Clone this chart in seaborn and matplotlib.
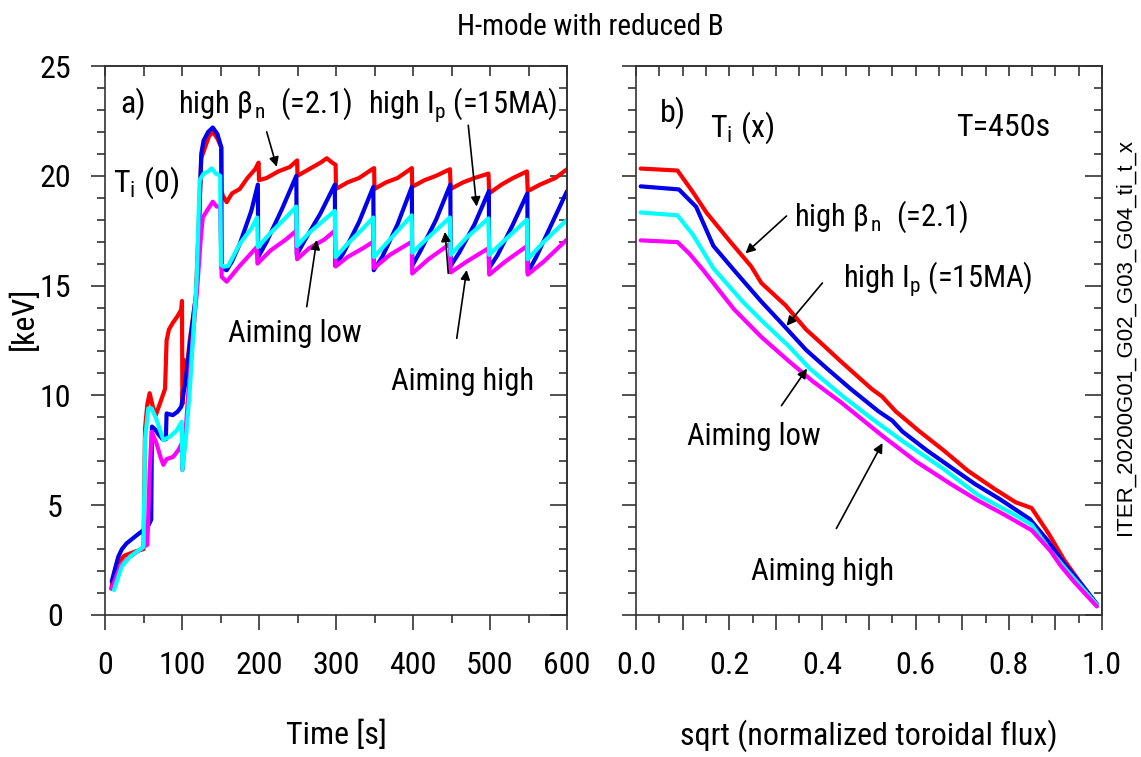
"""
Ti(0) time traces and Ti(x) profiles for the reduced-B H-mode cases.
"""
import pandas as pd
import matplotlib
matplotlib.use('Agg')
import matplotlib.pyplot as plt
import seaborn as sns
from matplotlib import font_manager
from matplotlib.ticker import MultipleLocator, FuncFormatter, NullFormatter

# ---- panel a) central ion temperature vs time ----
red_t = [8, 15, 25, 40, 50, 52, 55, 58, 62, 66, 70, 75, 78, 80, 83, 88, 94, 99, 100, 100.5,
         103, 105, 110, 118, 122, 125, 130, 135, 140, 146, 151, 151.5, 153, 158, 165, 175, 185,
         195, 199.5, 200, 210, 225, 240, 249.5, 250, 265, 280, 288, 295, 299.5, 300, 315, 330,
         347, 349.5, 350, 365, 380, 398.5, 399, 415, 430, 448, 449, 465, 480, 498, 499, 515,
         530, 548, 549, 565, 585, 600]
red_ti = [1.2, 2.3, 2.7, 2.9, 3.0, 8.5, 9.6, 10.1, 9.5, 9.1, 9.5, 10.0, 10.3, 12.5, 13.0, 13.3,
          13.6, 13.9, 14.3, 9.6, 11.6, 10.8, 12.5, 14.5, 18.0, 20.8, 21.3, 21.8, 22.0, 21.7, 21.3,
          19.3, 19.1, 18.8, 19.2, 19.4, 19.9, 20.3, 20.6, 19.8, 19.9, 20.2, 20.4, 20.7, 20.0, 20.3,
          20.6, 20.8, 20.6, 20.5, 19.4, 19.7, 19.9, 20.3, 20.35, 19.4, 19.7, 19.9, 20.35, 19.5,
          19.8, 20.0, 20.3, 19.4, 19.7, 19.9, 20.1, 19.2, 19.6, 19.9, 20.2, 19.3, 19.6, 19.9, 20.3]

blue_t = [8.7, 13, 17.3, 22, 28, 39, 50, 56.7, 60, 61, 65, 70, 75, 79, 80, 88, 94, 99, 104, 112,
          119, 122, 125, 128, 134, 140, 146, 151, 151.5, 158, 165, 175, 190, 198.5, 199, 210, 230,
          248.5, 249, 260, 280, 298.5, 299, 310, 330, 348.5, 349, 360, 380, 398.5, 399, 410, 430,
          448.5, 449, 460, 480, 498.5, 499, 510, 530, 548.5, 549, 560, 580, 600]
blue_ti = [1.52, 2.1, 2.66, 3.0, 3.26, 3.57, 3.87, 4.1, 4.34, 8.58, 8.45, 8.2, 8.0, 8.0, 9.18, 9.1,
           9.25, 9.48, 10.5, 12.8, 14.8, 17.5, 21.0, 21.6, 22.0, 22.2, 21.9, 21.3, 15.8, 15.7, 16.1,
           16.9, 18.4, 19.6, 16.3, 17.0, 18.5, 20.0, 16.4, 17.1, 18.3, 19.6, 15.9, 16.5, 17.9, 19.5,
           15.7, 16.3, 17.8, 19.5, 15.9, 16.6, 18.0, 19.6, 15.9, 16.5, 17.8, 19.3, 15.8, 16.4, 17.8,
           19.2, 15.6, 16.3, 17.8, 19.3]

cyan_t = [11.7, 21.6, 32.5, 42, 50, 52, 56.3, 60.6, 67, 75.8, 84.4, 93, 99.6, 100.5, 106, 110, 119,
          123, 128, 134, 138.5, 144, 149.6, 150.5, 155, 160, 175, 190, 197.5, 198.5, 215, 235,
          248.5, 249.5, 265, 285, 298.5, 299.5, 315, 335, 348.5, 349.5, 370, 398.3, 399, 420, 448,
          449, 470, 498, 499, 520, 548, 549, 570, 600]
cyan_ti = [1.14, 2.2, 2.66, 2.9, 3.1, 8.0, 9.41, 9.41, 8.88, 7.97, 8.12, 8.4, 8.8, 6.6, 8.4, 10.2,
           15.25, 19.8, 20.1, 20.2, 20.34, 20.1, 20.0, 15.94, 15.86, 15.9, 16.9, 17.6, 18.1, 16.75,
           17.4, 18.1, 18.6, 16.8, 17.4, 18.0, 18.4, 16.3, 16.9, 17.6, 18.1, 16.3, 17.1, 18.2, 16.5,
           17.2, 18.1, 16.4, 17.2, 18.06, 16.4, 17.1, 18.0, 16.2, 17.0, 18.0]

mag_t = [8.7, 19.5, 32.5, 45, 50, 55, 58, 60.6, 67, 72, 75.8, 80, 88.6, 95, 99.6, 100.5, 104, 108,
         115, 120, 124, 127, 134, 140, 145, 149.5, 151.5, 158, 175, 197, 198, 215, 235, 248.5,
         249.5, 265, 285, 298.5, 299.5, 315, 335, 348.5, 349.5, 370, 398.5, 399, 420, 448, 449,
         470, 498, 499, 520, 548, 549, 570, 600]
mag_ti = [1.21, 2.2, 2.66, 2.96, 3.1, 3.2, 6.5, 8.35, 7.8, 7.2, 6.84, 7.1, 7.2, 7.5, 7.8, 6.6, 8.0,
          10.0, 13.0, 15.0, 17.0, 18.1, 18.5, 18.82, 18.6, 18.6, 15.4, 15.18, 15.9, 16.75, 16.0,
          16.6, 17.1, 17.5, 16.2, 16.7, 17.1, 17.5, 15.87, 16.3, 16.7, 17.0, 15.8, 16.4, 17.0,
          15.55, 16.2, 16.9, 15.6, 16.1, 16.7, 15.5, 16.1, 16.8, 15.5, 16.1, 17.1]

# ---- panel b) ion temperature profiles at T=450s ----
red_rho = [0.01, 0.089, 0.122, 0.151, 0.203, 0.247, 0.269, 0.321, 0.365, 0.387, 0.439, 0.506,
           0.528, 0.557, 0.609, 0.66, 0.712, 0.771, 0.815, 0.849, 0.886, 0.919, 0.956, 0.989]
red_prof = [20.33, 20.24, 19.26, 18.33, 16.98, 15.88, 15.12, 14.1, 13.0, 12.58, 11.56, 10.29,
            9.95, 9.28, 8.35, 7.5, 6.57, 5.72, 5.13, 4.87, 3.69, 2.5, 1.4, 0.47]

blue_rho = [0.01, 0.092, 0.129, 0.166, 0.21, 0.269, 0.314, 0.365, 0.41, 0.461, 0.52, 0.55,
            0.572, 0.624, 0.675, 0.727, 0.779, 0.845, 0.882, 0.919, 0.956, 0.989]
blue_prof = [19.52, 19.38, 18.59, 16.81, 15.71, 14.27, 13.25, 12.07, 11.22, 10.29, 9.28, 8.85,
             8.35, 7.5, 6.74, 5.97, 5.3, 4.37, 3.43, 2.34, 1.4, 0.5]

cyan_rho = [0.01, 0.089, 0.122, 0.166, 0.229, 0.269, 0.328, 0.373, 0.439, 0.506, 0.572, 0.66,
            0.734, 0.808, 0.849, 0.889, 0.926, 0.989]
cyan_prof = [18.33, 18.2, 17.32, 15.79, 14.27, 13.42, 12.24, 11.22, 10.04, 8.94, 7.92, 6.65,
             5.46, 4.62, 4.11, 2.93, 2.0, 0.47]

mag_rho = [0.01, 0.089, 0.114, 0.144, 0.21, 0.269, 0.328, 0.38, 0.439, 0.528, 0.601, 0.675,
           0.734, 0.793, 0.849, 0.889, 0.911, 0.941, 0.989]
mag_prof = [17.06, 16.98, 16.47, 15.71, 13.93, 12.66, 11.56, 10.63, 9.7, 8.17, 6.99, 5.97,
            5.21, 4.54, 3.86, 2.93, 2.25, 1.49, 0.39]

cases = ['high beta', 'high Ip', 'aiming low', 'aiming high']
colors = {'high beta': '#ff0000', 'high Ip': '#0000ee',
          'aiming low': '#00ffff', 'aiming high': '#ff00ff'}

sns.set_theme(style="ticks")


def pick_narrow_font():
    # the original uses a condensed Helvetica; take the closest condensed face installed
    narrow = ('condensed', 'semi-condensed', 'extra-condensed')
    found = []
    for f in font_manager.fontManager.ttflist:
        if f.style != 'normal' or f.weight not in (400, 'normal', 'regular', 'book'):
            continue
        if f.stretch in narrow or 'Narrow' in f.name or 'Condensed' in f.name:
            found.append(f)
    prefs = ['Liberation Sans Narrow', 'Roboto Condensed', 'Roboto', 'Noto Sans',
             'Open Sans', 'DejaVu Sans']
    for p in prefs:
        for f in found:
            if f.name == p and f.stretch in ('condensed', 'normal'):
                return f.name, f.stretch
        for f in found:
            if f.name == p:
                return f.name, f.stretch
    if found:
        return found[0].name, found[0].stretch
    return 'Liberation Sans', 'normal'


main_font, main_stretch = pick_narrow_font()
plt.rcParams['font.family'] = [main_font, 'DejaVu Sans']
plt.rcParams.update({
    'font.stretch': main_stretch,
    'mathtext.fontset': 'custom',
    'mathtext.rm': main_font,
    'mathtext.it': main_font,
    'mathtext.bf': main_font,
    'mathtext.sf': main_font,
    'text.color': 'black',
    'axes.labelcolor': 'black',
    'xtick.labelcolor': 'black',
    'ytick.labelcolor': 'black',
})

INK = '#333333'
FS = 23      # tick and axis labels
ANN = 22     # in-plot annotations


def frame(xs, ys, name):
    return pd.DataFrame({'x': xs, 'y': ys, 'case': name})


def style_axes(ax, xmax, xmajor, xminor, xtop):
    ax.set_xlim(0, xmax)
    ax.set_ylim(0, 25)
    ax.set_xlabel('')
    ax.set_ylabel('')
    for s in ax.spines.values():
        s.set_visible(True)
        s.set_color(INK)
        s.set_linewidth(1.2)
    ax.xaxis.set_major_locator(MultipleLocator(xmajor))
    ax.xaxis.set_minor_locator(MultipleLocator(xminor))
    ax.yaxis.set_major_locator(MultipleLocator(5))
    ax.yaxis.set_minor_locator(MultipleLocator(1))
    ax.tick_params(which='both', direction='out', color=INK, width=1.2,
                   labelsize=FS, top=False, right=False)
    ax.tick_params(axis='x', which='major', length=10.8, pad=15)
    ax.tick_params(axis='x', which='minor', length=5.8)
    ax.tick_params(axis='y', which='major', length=10, pad=26)
    ax.tick_params(axis='y', which='minor', length=5.8)
    for lab in ax.get_yticklabels():
        lab.set_horizontalalignment('center')

    top = ax.secondary_xaxis('top')
    top.xaxis.set_major_locator(MultipleLocator(xtop))
    top.xaxis.set_major_formatter(NullFormatter())
    top.tick_params(direction='in', length=7.5, color=INK, width=1.2)
    right = ax.secondary_yaxis('right')
    right.yaxis.set_major_locator(MultipleLocator(5))
    right.yaxis.set_minor_locator(MultipleLocator(1))
    right.yaxis.set_major_formatter(NullFormatter())
    right.tick_params(which='major', direction='in', length=12, color=INK, width=1.2)
    right.tick_params(which='minor', direction='in', length=5.8, color=INK, width=1.2)
    for sec in (top, right):
        for s in sec.spines.values():
            s.set_color(INK)
            s.set_linewidth(1.2)


def arrow(ax, tail, head):
    ax.annotate('', xy=head, xytext=tail,
                arrowprops=dict(arrowstyle='-|>', color='black', lw=1.2,
                                mutation_scale=14, shrinkA=0, shrinkB=0))


fig = plt.figure(figsize=(11.41, 7.57), dpi=100)
ax1 = fig.add_axes([105 / 1141, 142 / 757, 462 / 1141, 549 / 757])
ax2 = fig.add_axes([636 / 1141, 142 / 757, 466 / 1141, 549 / 757])

time_df = pd.concat([
    frame(red_t, red_ti, 'high beta'),
    frame(blue_t, blue_ti, 'high Ip'),
    frame(mag_t, mag_ti, 'aiming high'),
    frame(cyan_t, cyan_ti, 'aiming low'),
])
sns.lineplot(data=time_df, x='x', y='y', hue='case',
             hue_order=['high beta', 'high Ip', 'aiming high', 'aiming low'],
             palette=colors, estimator=None, sort=False, lw=3, legend=False, ax=ax1)

prof_df = pd.concat([
    frame(red_rho, red_prof, 'high beta'),
    frame(blue_rho, blue_prof, 'high Ip'),
    frame(cyan_rho, cyan_prof, 'aiming low'),
    frame(mag_rho, mag_prof, 'aiming high'),
])
sns.lineplot(data=prof_df, x='x', y='y', hue='case', hue_order=cases,
             palette=colors, estimator=None, sort=False, lw=3, legend=False, ax=ax2)

style_axes(ax1, 600, 100, 50, 50)
style_axes(ax2, 1.0, 0.1, 0.05, 0.05)
ax2.xaxis.set_major_formatter(FuncFormatter(
    lambda v, p: f'{v:.1f}' if round(v * 10) % 2 == 0 else ''))
ax2.tick_params(axis='y', labelleft=False)

ax1.set_xlabel('Time [s]', fontsize=FS)
ax1.xaxis.set_label_coords(0.5, -0.19)
ax1.set_ylabel('[keV]', fontsize=FS, va='center')
ax1.yaxis.set_label_coords(-0.175, 0.541)
ax2.set_xlabel('sqrt (normalized toroidal flux)', fontsize=FS)
ax2.xaxis.set_label_coords(0.5, -0.19)

# panel a) labels
ax1.text(19.5, 22.85, 'a)', fontsize=FS)
ax1.text(94.8, 22.85, r'high $\beta_{\,\mathrm{n}}$  (=2.1)', fontsize=ANN)
ax1.text(342, 22.85, r'high I$_\mathrm{p}$ (=15MA)', fontsize=ANN)
ax1.text(10.8, 19.28, r'T$_\mathrm{i}$ (0)', fontsize=FS)
ax1.text(160, 12.45, 'Aiming low', fontsize=ANN)
ax1.text(372, 10.25, 'Aiming high', fontsize=ANN)
arrow(ax1, (210, 22.0), (223, 20.41))
arrow(ax1, (471.8, 22.3), (482.7, 18.6))
arrow(ax1, (262, 14.04), (275, 17.08))
arrow(ax1, (445.8, 15.56), (441.6, 17.45))
arrow(ax1, (456.8, 12.6), (469.7, 15.71))

# panel b) labels
ax2.text(0.052, 22.48, 'b)', fontsize=FS)
ax2.text(0.158, 21.8, r'T$_\mathrm{i}$ (x)', fontsize=FS)
ax2.text(0.687, 21.8, 'T=450s', fontsize=FS)
ax2.text(0.338, 17.74, r'high $\beta_{\,\mathrm{n}}$  (=2.1)', fontsize=ANN)
ax2.text(0.444, 14.95, r'high I$_\mathrm{p}$ (=15MA)', fontsize=ANN)
ax2.text(0.110, 7.75, 'Aiming low', fontsize=ANN)
ax2.text(0.246, 1.58, 'Aiming high', fontsize=ANN)
arrow(ax2, (0.323, 18.17), (0.235, 16.47))
arrow(ax2, (0.400, 15.12), (0.323, 13.17))
arrow(ax2, (0.312, 9.53), (0.367, 11.22))
arrow(ax2, (0.430, 3.94), (0.529, 7.83))

fig.text(590 / 1141, 1 - 27 / 757, 'H-mode with reduced B', ha='center', va='center',
         fontsize=21)
fig.text(1125 / 1141, 1 - 337 / 757, 'ITER_20200G01_G02_G03_G04_ti_t_x', rotation=90,
         ha='center', va='center', fontsize=16, stretch='normal',
         family=['Liberation Sans', 'DejaVu Sans'])

fig.savefig('out.png', dpi=100)
plt.close(fig)
